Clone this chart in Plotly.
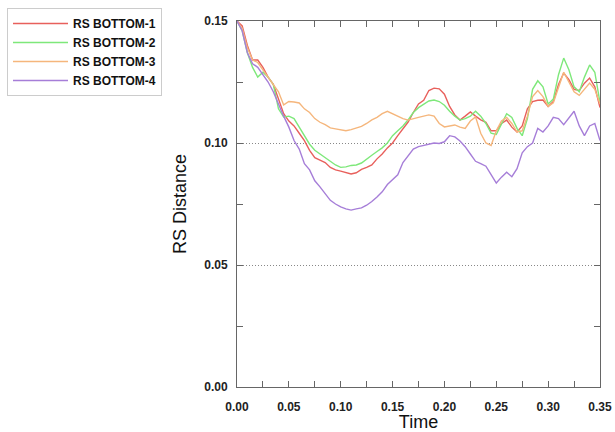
import plotly.graph_objects as go

time = [round(i * 0.005, 3) for i in range(71)]

rs_bottom_1 = [0.150, 0.148, 0.140, 0.134, 0.134, 0.131, 0.127, 0.124, 0.118, 0.112,
               0.109, 0.107, 0.104, 0.101, 0.097, 0.094, 0.093, 0.092, 0.090, 0.089,
               0.0885, 0.088, 0.0873, 0.0878, 0.0892, 0.0900, 0.0910, 0.0935, 0.0955, 0.0980,
               0.1000, 0.1030, 0.1060, 0.1086, 0.1125, 0.1160, 0.1175, 0.1215, 0.1225, 0.1222,
               0.1200, 0.1150, 0.1115, 0.1094, 0.1110, 0.1127, 0.1110, 0.1095, 0.1085, 0.1050,
               0.1050, 0.1080, 0.1094, 0.1065, 0.1045, 0.1070, 0.1140, 0.1170, 0.1175, 0.1176,
               0.1150, 0.1170, 0.1240, 0.1287, 0.1260, 0.1220, 0.1215, 0.1245, 0.1266, 0.1230,
               0.1145]

rs_bottom_2 = [0.150, 0.146, 0.137, 0.131, 0.127, 0.129, 0.127, 0.124, 0.114, 0.1107,
               0.1110, 0.1100, 0.1065, 0.1030, 0.0995, 0.0970, 0.0955, 0.0940, 0.0925, 0.0910,
               0.0900, 0.0902, 0.0908, 0.0910, 0.0918, 0.0935, 0.0950, 0.0965, 0.0980, 0.1000,
               0.1030, 0.1050, 0.1070, 0.1095, 0.1125, 0.1145, 0.1160, 0.1172, 0.1176, 0.1170,
               0.1155, 0.1130, 0.1110, 0.1094, 0.1100, 0.1110, 0.1130, 0.1110, 0.1080, 0.1040,
               0.1035, 0.1080, 0.1120, 0.1105, 0.1060, 0.1030, 0.1100, 0.1220, 0.1255, 0.1230,
               0.1160, 0.1180, 0.1280, 0.1348, 0.1300, 0.1230, 0.1210, 0.1270, 0.1320, 0.1290,
               0.1165]

rs_bottom_3 = [0.150, 0.147, 0.139, 0.134, 0.133, 0.130, 0.127, 0.124, 0.121, 0.1156,
               0.1170, 0.1168, 0.1164, 0.1140, 0.1125, 0.1100, 0.1085, 0.1075, 0.1062, 0.1058,
               0.1055, 0.1050, 0.1055, 0.1060, 0.1068, 0.1080, 0.1095, 0.1105, 0.1120, 0.1130,
               0.1120, 0.1110, 0.1100, 0.1094, 0.1098, 0.1105, 0.1110, 0.1115, 0.1110, 0.1080,
               0.1066, 0.1070, 0.1074, 0.1065, 0.1060, 0.1090, 0.1107, 0.1040, 0.1000, 0.0990,
               0.1050, 0.1090, 0.1105, 0.1080, 0.1045, 0.1050, 0.1110, 0.1190, 0.1215, 0.1190,
               0.1150, 0.1165, 0.1230, 0.1290, 0.1250, 0.1210, 0.1195, 0.1220, 0.1246, 0.1220,
               0.1160]

rs_bottom_4 = [0.150, 0.146, 0.137, 0.1325, 0.131, 0.128, 0.125, 0.121, 0.1156, 0.111,
               0.1065, 0.101, 0.0975, 0.0915, 0.0890, 0.0845, 0.0820, 0.0790, 0.0765, 0.0750,
               0.0738, 0.0730, 0.0725, 0.0730, 0.0734, 0.0745, 0.0760, 0.0779, 0.0800, 0.0830,
               0.0850, 0.0870, 0.0920, 0.0950, 0.0975, 0.0985, 0.0990, 0.0995, 0.1000, 0.0998,
               0.1005, 0.1030, 0.1025, 0.1008, 0.0985, 0.0955, 0.0925, 0.0915, 0.0905, 0.0870,
               0.0836, 0.0860, 0.0880, 0.0862, 0.0895, 0.0960, 0.0985, 0.1000, 0.1060, 0.1045,
               0.1070, 0.1105, 0.1100, 0.1075, 0.1105, 0.1130, 0.1070, 0.1030, 0.1070, 0.1080,
               0.1010]

names = ["RS BOTTOM-1", "RS BOTTOM-2", "RS BOTTOM-3", "RS BOTTOM-4"]
colors = ["#e8605c", "#7ee87a", "#f5b67c", "#a67ed8"]
series = [rs_bottom_1, rs_bottom_2, rs_bottom_3, rs_bottom_4]

x_ticks = [0.00, 0.05, 0.10, 0.15, 0.20, 0.25, 0.30, 0.35]
y_ticks = [0.00, 0.05, 0.10, 0.15]

FONT = "Liberation Sans, Arial"

fig = go.Figure()
for name, color, ys in zip(names, colors, series):
    fig.add_trace(go.Scatter(x=time, y=ys, mode="lines", name=name,
                             line=dict(color=color, width=1.4)))

axis_common = dict(
    showline=True, linecolor="#666666", linewidth=1, mirror="ticks",
    ticks="inside", ticklen=6, tickcolor="#666666", tickwidth=1,
    tickfont=dict(family=FONT, size=12, color="#222222", weight="bold"),
    zeroline=False,
)

fig.update_xaxes(
    range=[0, 0.35], tickvals=x_ticks, ticktext=[f"{v:.2f}" for v in x_ticks],
    showgrid=False,
    minor=dict(dtick=0.025, tick0=0, ticks="inside", ticklen=6, tickcolor="#666666", showgrid=False),
    title=dict(text="Time", font=dict(family=FONT, size=18, color="#111111"), standoff=9),
    ticklabelstandoff=9,
    **axis_common,
)
fig.update_yaxes(
    range=[0, 0.15], tickvals=y_ticks, ticktext=[f"{v:.2f}" for v in y_ticks],
    showgrid=True, gridcolor="#888888", griddash="1px,2px", gridwidth=1,
    minor=dict(dtick=0.025, tick0=0, ticks="inside", ticklen=6, tickcolor="#666666", showgrid=False),
    title=dict(text="RS Distance", font=dict(family=FONT, size=18, color="#111111"), standoff=12),
    ticklabelstandoff=6,
    **axis_common,
)

fig.update_layout(
    width=615, height=432,
    margin=dict(l=237, r=15, t=21, b=45, autoexpand=False),
    paper_bgcolor="white", plot_bgcolor="white",
    showlegend=True,
    legend=dict(
        xref="container", yref="container", x=7 / 615, y=1 - 8 / 432,
        xanchor="left", yanchor="top",
        bordercolor="#cccccc", borderwidth=1, bgcolor="white",
        font=dict(family=FONT, size=12, color="#111111", weight="bold"),
        tracegroupgap=0, itemwidth=55,
    ),
)

fig.write_html("out.html")
